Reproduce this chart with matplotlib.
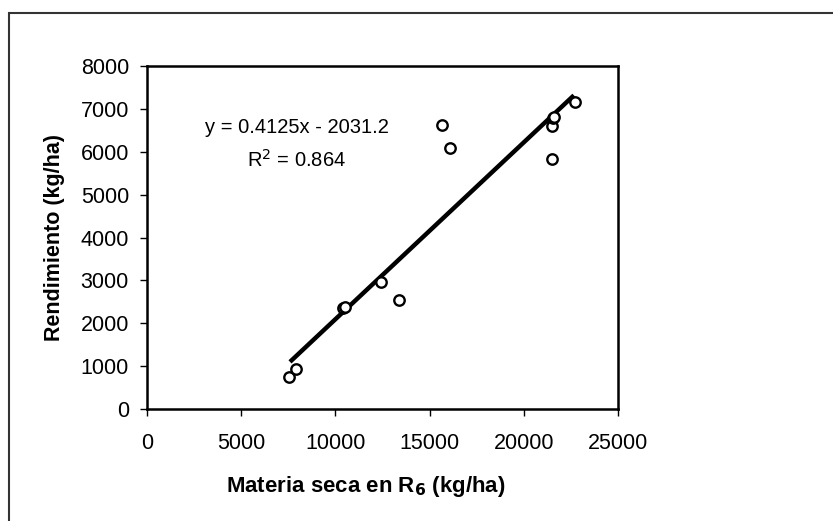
import matplotlib.pyplot as plt
from matplotlib.patches import Rectangle
import numpy as np

plt.rcParams["font.family"] = ["Liberation Sans", "DejaVu Sans"]

# data
materia_seca = [7540, 7910, 10400, 10520, 12440, 13360, 15660, 16080, 21480, 21480, 21560, 21610, 22700]
rendimiento = [750, 930, 2350, 2380, 2970, 2540, 6620, 6080, 5830, 6600, 6780, 6800, 7150]

slope = 0.4125
intercept = -2031.2
fit_x = [7590, 22660]

x_ticks = [0, 5000, 10000, 15000, 20000, 25000]
y_ticks = [0, 1000, 2000, 3000, 4000, 5000, 6000, 7000, 8000]

fig = plt.figure(figsize=(8.33, 5.21), dpi=100)
# outer frame (runs off the right and bottom edges)
fig.patches.append(Rectangle((9 / 833, -0.05), 1.2, 1 - 13 / 521 + 0.05,
                             transform=fig.transFigure, fill=False,
                             edgecolor="#333333", linewidth=1.5))

ax = fig.add_axes([147 / 833, 1 - 409 / 521, 471 / 833, 343 / 521])

fy = [slope * v + intercept for v in fit_x]
ax.plot(fit_x, fy, color="black", linewidth=3.2, solid_capstyle="butt", zorder=2)
ax.plot(materia_seca, rendimiento, linestyle="none", marker="o", markersize=7.5,
        markerfacecolor="white", markeredgecolor="black", markeredgewidth=1.7, zorder=3)

ax.set_xlim(0, 25000)
ax.set_ylim(0, 8000)
ax.set_xticks(x_ticks)
ax.set_yticks(y_ticks)
ax.tick_params(direction="out", length=5, width=1, labelsize=15.5)
ax.tick_params(axis="x", pad=12)
ax.tick_params(axis="y", pad=8)
for s in ax.spines.values():
    s.set_linewidth(1.8)

ax.text(7960, 6577, "y = 0.4125x - 2031.2", ha="center", va="center", fontsize=14.5)
ax.text(7960, 5808, "R$^2$ = 0.864", ha="center", va="center", fontsize=14.5)

ax.set_xlabel("Materia seca en R$_\\mathbf{6}$ (kg/ha)", fontsize=16, fontweight="bold")
ax.xaxis.set_label_coords(0.465, -0.19)
ax.set_ylabel("Rendimiento (kg/ha)", fontsize=15.5, fontweight="bold", labelpad=11)

fig.savefig("out.png", dpi=100)
